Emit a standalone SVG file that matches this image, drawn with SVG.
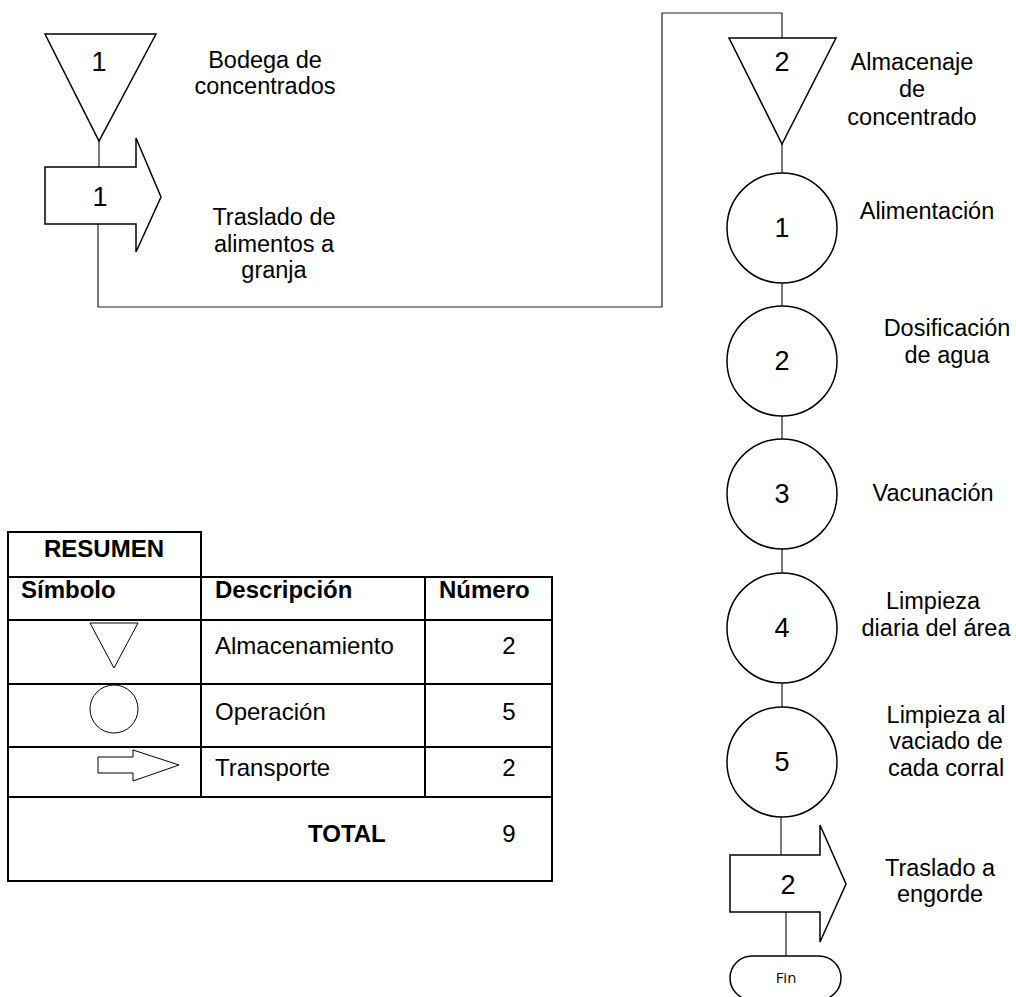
<svg xmlns="http://www.w3.org/2000/svg" width="1016" height="997" viewBox="0 0 1016 997">
  <style>
    .shape { fill: #ffffff; stroke: #000000; stroke-width: 1.5; }
    .conn { fill: none; stroke: #222222; stroke-width: 1.2; }
    .num { font-family: "Liberation Sans", Arial, sans-serif; font-size: 27px; fill: #000; text-anchor: middle; }
    .lbl { font-family: "Liberation Sans", Arial, sans-serif; font-size: 23.5px; fill: #000; text-anchor: middle; }
    .cell { font-family: "Liberation Sans", Arial, sans-serif; font-size: 24px; fill: #000; }
    .hdr { font-weight: bold; }
    .grid { fill: none; stroke: #000000; stroke-width: 2; }
    .sym { fill: #ffffff; stroke: #000000; stroke-width: 1; }
    .fin { font-family: "Open Sans", "Noto Sans", sans-serif; font-size: 15px; fill: #000; text-anchor: middle; }
  </style>

  <!-- connectors -->
  <g id="connectors">
    <line class="conn" x1="99" y1="141" x2="99" y2="167"/>
    <polyline class="conn" points="98,224 98,307 662,307 662,13 782,13 782,38"/>
    <line class="conn" x1="782" y1="144" x2="782" y2="173"/>
    <line class="conn" x1="782" y1="283" x2="782" y2="307"/>
    <line class="conn" x1="782" y1="416" x2="782" y2="440"/>
    <line class="conn" x1="782" y1="549" x2="782" y2="573"/>
    <line class="conn" x1="782" y1="683" x2="782" y2="708"/>
    <line class="conn" x1="781" y1="817" x2="781" y2="855"/>
    <line class="conn" x1="786" y1="912" x2="786" y2="956" stroke="#555555"/>
  </g>

  <!-- storage 1 -->
  <g id="almacen-1">
    <polygon class="shape" points="45,34 156,34 99,141"/>
    <text class="num" x="99" y="71">1</text>
    <text class="lbl" x="265" y="68">Bodega de</text>
    <text class="lbl" x="265" y="94">concentrados</text>
  </g>

  <!-- transport 1 -->
  <g id="transporte-1">
    <polygon class="shape" points="45,167 136,167 136,138 161,197 136,252 136,224 45,224"/>
    <text class="num" x="100" y="206">1</text>
    <text class="lbl" x="274" y="225">Traslado de</text>
    <text class="lbl" x="274" y="252">alimentos a</text>
    <text class="lbl" x="274" y="278">granja</text>
  </g>

  <!-- storage 2 -->
  <g id="almacen-2">
    <polygon class="shape" points="729,38 836,38 782,144"/>
    <text class="num" x="782" y="71">2</text>
    <text class="lbl" x="912" y="70">Almacenaje</text>
    <text class="lbl" x="912" y="97">de</text>
    <text class="lbl" x="912" y="125">concentrado</text>
  </g>

  <!-- operations -->
  <g id="operacion-1">
    <circle class="shape" cx="782" cy="228" r="55"/>
    <text class="num" x="782" y="237">1</text>
    <text class="lbl" x="927" y="219">Alimentación</text>
  </g>
  <g id="operacion-2">
    <circle class="shape" cx="782" cy="361" r="55"/>
    <text class="num" x="782" y="370">2</text>
    <text class="lbl" x="947" y="336">Dosificación</text>
    <text class="lbl" x="947" y="363">de agua</text>
  </g>
  <g id="operacion-3">
    <circle class="shape" cx="782" cy="494" r="55"/>
    <text class="num" x="782" y="503">3</text>
    <text class="lbl" x="933" y="501">Vacunación</text>
  </g>
  <g id="operacion-4">
    <circle class="shape" cx="782" cy="628" r="55"/>
    <text class="num" x="782" y="637">4</text>
    <text class="lbl" x="933" y="609">Limpieza</text>
    <text class="lbl" x="936" y="636">diaria del área</text>
  </g>
  <g id="operacion-5">
    <circle class="shape" cx="782" cy="762" r="55"/>
    <text class="num" x="782" y="771">5</text>
    <text class="lbl" x="946" y="723">Limpieza al</text>
    <text class="lbl" x="946" y="749">vaciado de</text>
    <text class="lbl" x="946" y="776">cada corral</text>
  </g>

  <!-- transport 2 -->
  <g id="transporte-2">
    <polygon class="shape" points="730,855 820,855 820,825 846,884 820,942 820,912 730,912"/>
    <text class="num" x="788" y="894">2</text>
    <text class="lbl" x="940" y="876">Traslado a</text>
    <text class="lbl" x="940" y="902">engorde</text>
  </g>

  <!-- end -->
  <g id="fin">
    <rect class="shape" x="730" y="956" width="111" height="44" rx="22" ry="22"/>
    <text class="fin" x="786" y="983">Fin</text>
  </g>

  <!-- summary table -->
  <g id="resumen">
    <rect class="grid" x="8" y="532" width="193" height="45"/>
    <polyline class="grid" points="201,577 552,577 552,881 8,881 8,577"/>
    <line class="grid" x1="8" y1="620" x2="552" y2="620"/>
    <line class="grid" x1="8" y1="684" x2="552" y2="684"/>
    <line class="grid" x1="8" y1="747" x2="552" y2="747"/>
    <line class="grid" x1="8" y1="797" x2="552" y2="797"/>
    <line class="grid" x1="201" y1="577" x2="201" y2="797"/>
    <line class="grid" x1="425" y1="577" x2="425" y2="797"/>

    <text class="cell hdr" x="104" y="557" text-anchor="middle">RESUMEN</text>
    <text class="cell hdr" x="21" y="598">Símbolo</text>
    <text class="cell hdr" x="215" y="598">Descripción</text>
    <text class="cell hdr" x="439" y="598">Número</text>

    <polygon class="sym" points="90,623 138,623 114,668"/>
    <text class="cell" x="215" y="654">Almacenamiento</text>
    <text class="cell" x="509" y="654" text-anchor="middle">2</text>

    <circle class="sym" cx="114" cy="709" r="24"/>
    <text class="cell" x="215" y="720">Operación</text>
    <text class="cell" x="509" y="720" text-anchor="middle">5</text>

    <polygon class="sym" points="98,757 133,757 133,750 179,765 133,781 133,773 98,773"/>
    <text class="cell" x="215" y="776">Transporte</text>
    <text class="cell" x="509" y="776" text-anchor="middle">2</text>

    <text class="cell hdr" x="308" y="842">TOTAL</text>
    <text class="cell" x="509" y="842" text-anchor="middle">9</text>
  </g>
</svg>
